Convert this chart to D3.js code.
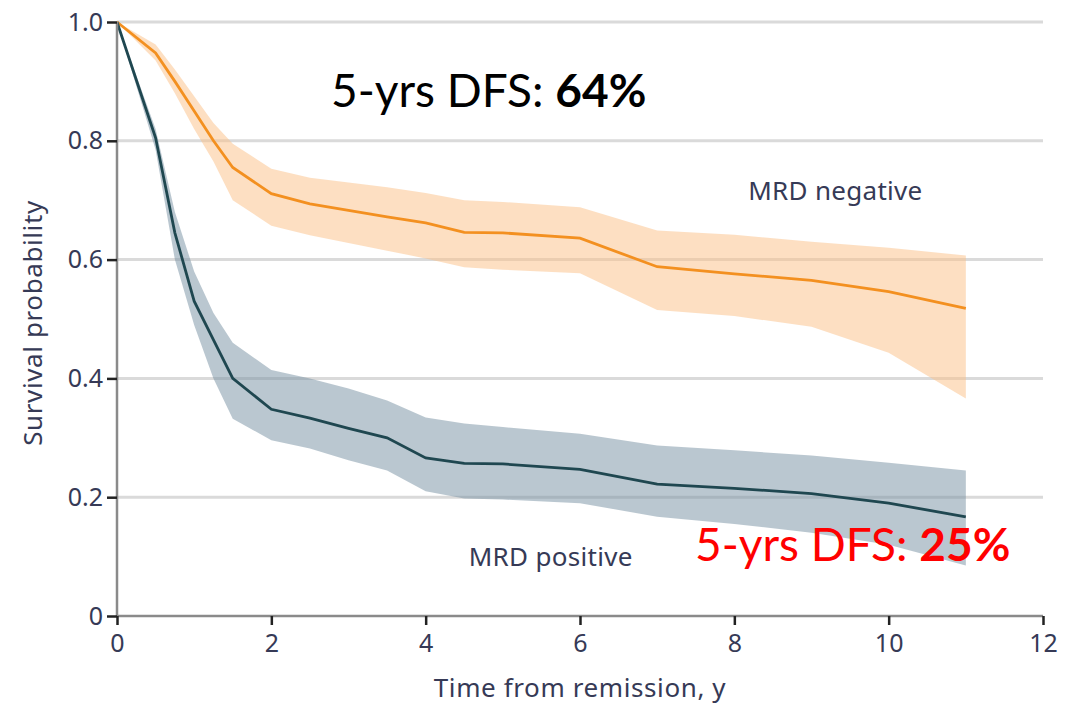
<!DOCTYPE html>
<html>
<head>
<meta charset="utf-8">
<script src="https://cdn.jsdelivr.net/npm/d3@7"></script>
<style>
  html, body { margin: 0; padding: 0; background: #fff; }
  svg { display: block; }
</style>
</head>
<body>
<svg id="chart" width="1074" height="708"></svg>
<script>
// Kaplan-Meier disease-free survival by MRD status, with 95% confidence bands
const years = [0, 0.5, 0.75, 1, 1.25, 1.5, 2, 2.5, 3, 3.5, 4, 4.5, 5, 6, 7, 8, 9, 10, 11];

const negSurvival = [1.0, 0.948, 0.90, 0.85, 0.80, 0.755, 0.711, 0.694, 0.683, 0.672, 0.662, 0.646, 0.645, 0.636, 0.588, 0.576, 0.565, 0.546, 0.518];
const negUpper    = [1.0, 0.962, 0.92, 0.875, 0.83, 0.795, 0.753, 0.738, 0.730, 0.722, 0.712, 0.700, 0.697, 0.688, 0.649, 0.642, 0.630, 0.620, 0.607];
const negLower    = [1.0, 0.935, 0.88, 0.82, 0.765, 0.70, 0.657, 0.641, 0.628, 0.615, 0.602, 0.587, 0.583, 0.577, 0.515, 0.505, 0.487, 0.443, 0.366];

const posSurvival = [1.0, 0.805, 0.645, 0.53, 0.465, 0.40, 0.348, 0.333, 0.316, 0.300, 0.266, 0.257, 0.256, 0.247, 0.222, 0.215, 0.206, 0.190, 0.167];
const posUpper    = [1.0, 0.82, 0.68, 0.58, 0.51, 0.46, 0.414, 0.400, 0.383, 0.363, 0.334, 0.324, 0.318, 0.307, 0.287, 0.279, 0.270, 0.258, 0.245];
const posLower    = [1.0, 0.785, 0.60, 0.49, 0.40, 0.332, 0.296, 0.282, 0.262, 0.245, 0.210, 0.198, 0.196, 0.190, 0.167, 0.155, 0.140, 0.120, 0.085];

const xTicks = [0, 2, 4, 6, 8, 10, 12];
const yTicks = [0, 0.2, 0.4, 0.6, 0.8, 1.0];
const yTickLabels = ["0", "0.2", "0.4", "0.6", "0.8", "1.0"];

const groupLabels = ["MRD negative", "MRD positive"];
const dfsPrefix = "5-yrs DFS: ";
const dfsValues = ["64%", "25%"];

const svg = d3.select("#chart");
const margin = { left: 117, top: 22, right: 31, bottom: 92 };
const W = 1074, H = 708;

const x = d3.scaleLinear().domain([0, 12]).range([margin.left, W - margin.right]);
const y = d3.scaleLinear().domain([0, 1]).range([H - margin.bottom, margin.top]);

const labelFont = "'Noto Sans', 'Open Sans', sans-serif";
const labelColor = "#363a56";

// horizontal grid
svg.append("g")
  .selectAll("line")
  .data(yTicks.filter(d => d > 0))
  .join("line")
  .attr("x1", x(0)).attr("x2", x(12))
  .attr("y1", d => y(d)).attr("y2", d => y(d))
  .attr("stroke", "#dadada")
  .attr("stroke-width", 3);

// confidence bands
const band = (lo, hi) => d3.area()
  .x((d, i) => x(years[i]))
  .y0((d, i) => y(lo[i]))
  .y1((d, i) => y(hi[i]));

svg.append("path")
  .datum(years)
  .attr("d", band(negLower, negUpper))
  .attr("fill", "#fbbf85")
  .attr("fill-opacity", 0.5);

svg.append("path")
  .datum(years)
  .attr("d", band(posLower, posUpper))
  .attr("fill", "#7590a2")
  .attr("fill-opacity", 0.5);

// survival curves
const curve = vals => d3.line()
  .x((d, i) => x(years[i]))
  .y((d, i) => y(vals[i]));

svg.append("path")
  .datum(years)
  .attr("d", curve(negSurvival))
  .attr("fill", "none")
  .attr("stroke", "#f39020")
  .attr("stroke-width", 2.8);

svg.append("path")
  .datum(years)
  .attr("d", curve(posSurvival))
  .attr("fill", "none")
  .attr("stroke", "#1f4750")
  .attr("stroke-width", 2.8);

// axes
const xAxis = d3.axisBottom(x).tickValues(xTicks).tickSize(9).tickPadding(9).tickFormat(d3.format("d"));
const yAxis = d3.axisLeft(y).tickValues(yTicks).tickSize(10).tickPadding(4)
  .tickFormat((d, i) => yTickLabels[i]);

const gx = svg.append("g").attr("transform", `translate(0,${y(0)})`).call(xAxis);
const gy = svg.append("g").attr("transform", `translate(${x(0)},0)`).call(yAxis);

[gx, gy].forEach(g => {
  g.select(".domain").attr("stroke", "#8a8a8a").attr("stroke-width", 2.5);
  g.selectAll(".tick line").attr("stroke", "#222").attr("stroke-width", 2.5);
  g.selectAll(".tick text")
    .attr("fill", labelColor)
    .style("font-family", labelFont)
    .style("font-size", "25px");
});
gy.select(".domain").attr("d", `M0,${y(1)}V${y(0)}`);
gx.select(".domain").attr("d", `M${x(0)},0H${x(12)}`);

// axis titles
svg.append("text")
  .attr("x", 580).attr("y", 697)
  .attr("text-anchor", "middle")
  .attr("fill", labelColor)
  .style("font-family", labelFont)
  .style("font-size", "26px")
  .style("letter-spacing", "0.6px")
  .text("Time from remission, y");

svg.append("text")
  .attr("transform", `translate(42,323) rotate(-90)`)
  .attr("text-anchor", "middle")
  .attr("fill", labelColor)
  .style("font-family", labelFont)
  .style("font-size", "26px")
  .style("letter-spacing", "0.6px")
  .text("Survival probability");

// group labels
svg.append("text")
  .attr("x", x(9.31)).attr("y", y(0.70))
  .attr("text-anchor", "middle")
  .attr("fill", labelColor)
  .style("font-family", labelFont)
  .style("font-size", "26px")
  .style("letter-spacing", "0.3px")
  .text(groupLabels[0]);

svg.append("text")
  .attr("x", x(5.62)).attr("y", y(0.085))
  .attr("text-anchor", "middle")
  .attr("fill", labelColor)
  .style("font-family", labelFont)
  .style("font-size", "26px")
  .style("letter-spacing", "0.3px")
  .text(groupLabels[1]);

// 5-year DFS annotations
const dfsFont = "Lato, 'Noto Sans', sans-serif";
function dfs(xPos, yPos, value, color) {
  const t = svg.append("text")
    .attr("x", xPos).attr("y", yPos)
    .attr("fill", color)
    .style("font-family", dfsFont)
    .style("font-size", "46px");
  t.append("tspan").text(dfsPrefix);
  t.append("tspan").attr("font-weight", "bold").text(value);
}
dfs(331, 107, dfsValues[0], "#000");
dfs(695, 561, dfsValues[1], "#ff0000");
</script>
</body>
</html>
